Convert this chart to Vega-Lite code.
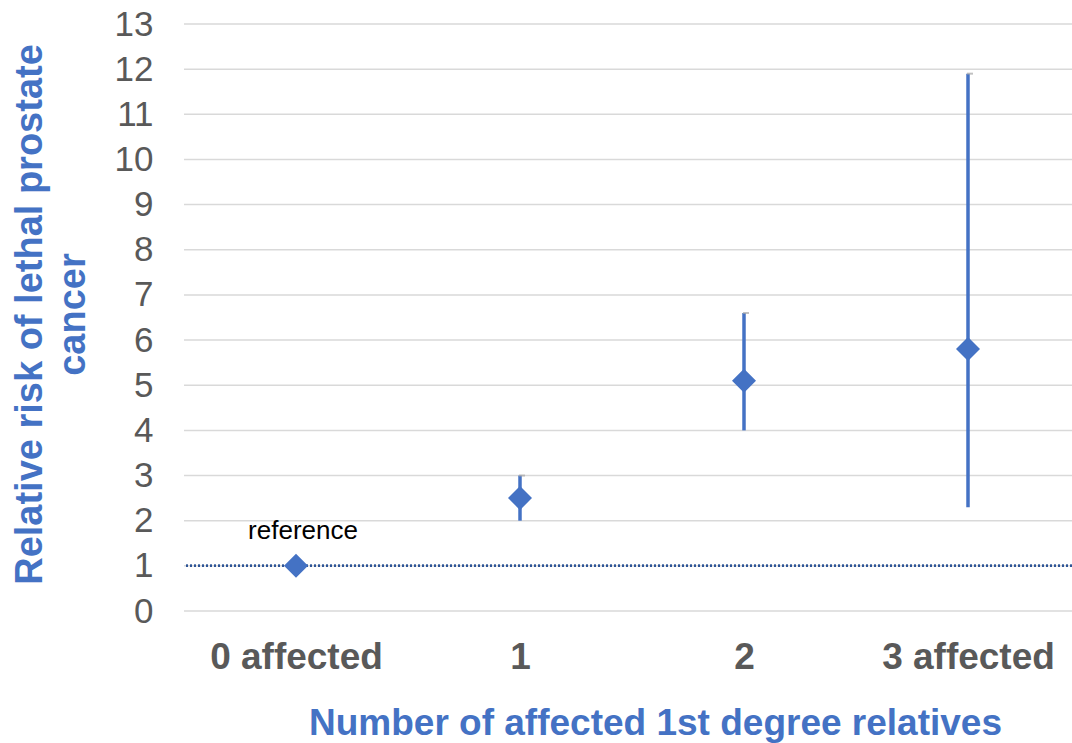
{
  "$schema": "https://vega.github.io/schema/vega-lite/v6.json",
  "width": 888,
  "height": 587,
  "autosize": "none",
  "padding": {"left": 184, "top": 24, "right": 0, "bottom": 132},
  "background": "white",
  "config": {
    "view": {"stroke": null},
    "font": "Liberation Sans"
  },
  "datasets": {
    "points": [
      {"group": "0 affected", "rr": 1, "lo": null, "hi": null, "note": "reference"},
      {"group": "1", "rr": 2.5, "lo": 2.0, "hi": 3.0, "note": ""},
      {"group": "2", "rr": 5.1, "lo": 4.0, "hi": 6.6, "note": ""},
      {"group": "3 affected", "rr": 5.8, "lo": 2.3, "hi": 11.9, "note": ""}
    ],
    "gridlines": [
      {"v": 0}, {"v": 1}, {"v": 2}, {"v": 3}, {"v": 4}, {"v": 5}, {"v": 6},
      {"v": 7}, {"v": 8}, {"v": 9}, {"v": 10}, {"v": 11}, {"v": 12}, {"v": 13}
    ]
  },
  "data": {"name": "points"},
  "encoding": {
    "x": {
      "field": "group",
      "type": "nominal",
      "sort": ["0 affected", "1", "2", "3 affected"],
      "scale": {"type": "point", "padding": 0, "range": [112, 784]},
      "axis": {
        "title": "Number of affected 1st degree relatives",
        "titleFont": "Liberation Sans",
        "titleFontSize": 37,
        "titleFontWeight": "bold",
        "titleColor": "#4472C4",
        "titlePadding": 30,
        "titleX": 471,
        "labelAngle": 0,
        "labelFont": "Liberation Sans",
        "labelFontSize": 37,
        "labelFontWeight": "bold",
        "labelColor": "#595959",
        "labelPadding": 28,
        "ticks": false,
        "domain": false,
        "grid": false
      }
    }
  },
  "layer": [
    {
      "data": {"name": "gridlines"},
      "mark": {"type": "rule", "stroke": "#D9D9D9", "strokeWidth": 1.5},
      "encoding": {
        "x": null,
        "y": {"field": "v", "type": "quantitative"}
      }
    },
    {
      "mark": {"type": "rule", "stroke": "#4472C4", "strokeWidth": 3.5},
      "encoding": {
        "y": {"field": "lo", "type": "quantitative"},
        "y2": {"field": "hi"}
      }
    },
    {
      "mark": {"type": "tick", "orient": "horizontal", "color": "#A6A6A6", "size": 6, "thickness": 2, "xOffset": 2},
      "encoding": {
        "y": {"field": "hi", "type": "quantitative"}
      }
    },
    {
      "mark": {"type": "rule", "stroke": "#2F5597", "strokeWidth": 2, "strokeDash": [2, 2]},
      "encoding": {
        "y": {"datum": 1, "type": "quantitative"},
        "x": null
      }
    },
    {
      "mark": {"type": "point", "shape": "diamond", "filled": true, "color": "#4472C4", "size": 576, "opacity": 1},
      "encoding": {
        "y": {
          "field": "rr",
          "type": "quantitative",
          "scale": {"domain": [0, 13], "nice": false},
          "axis": {
            "title": ["Relative risk of lethal prostate", "cancer"],
            "titleFont": "Liberation Sans",
            "titleFontSize": 38,
            "titleFontWeight": "bold",
            "titleColor": "#4472C4",
            "titleLineHeight": 43,
            "titlePadding": 22,
            "titleY": 290,
            "values": [0,1,2,3,4,5,6,7,8,9,10,11,12,13],
            "labelFont": "Liberation Sans",
            "labelFontSize": 35,
            "labelColor": "#595959",
            "labelPadding": 31,
            "ticks": false,
            "domain": false,
            "grid": false
          }
        }
      }
    },
    {
      "mark": {"type": "text", "fontSize": 26, "color": "#000000", "dx": 7, "dy": -35, "font": "Liberation Sans"},
      "encoding": {
        "y": {"field": "rr", "type": "quantitative"},
        "text": {"field": "note"}
      }
    }
  ],
  "resolve": {"scale": {"y": "shared"}}
}
